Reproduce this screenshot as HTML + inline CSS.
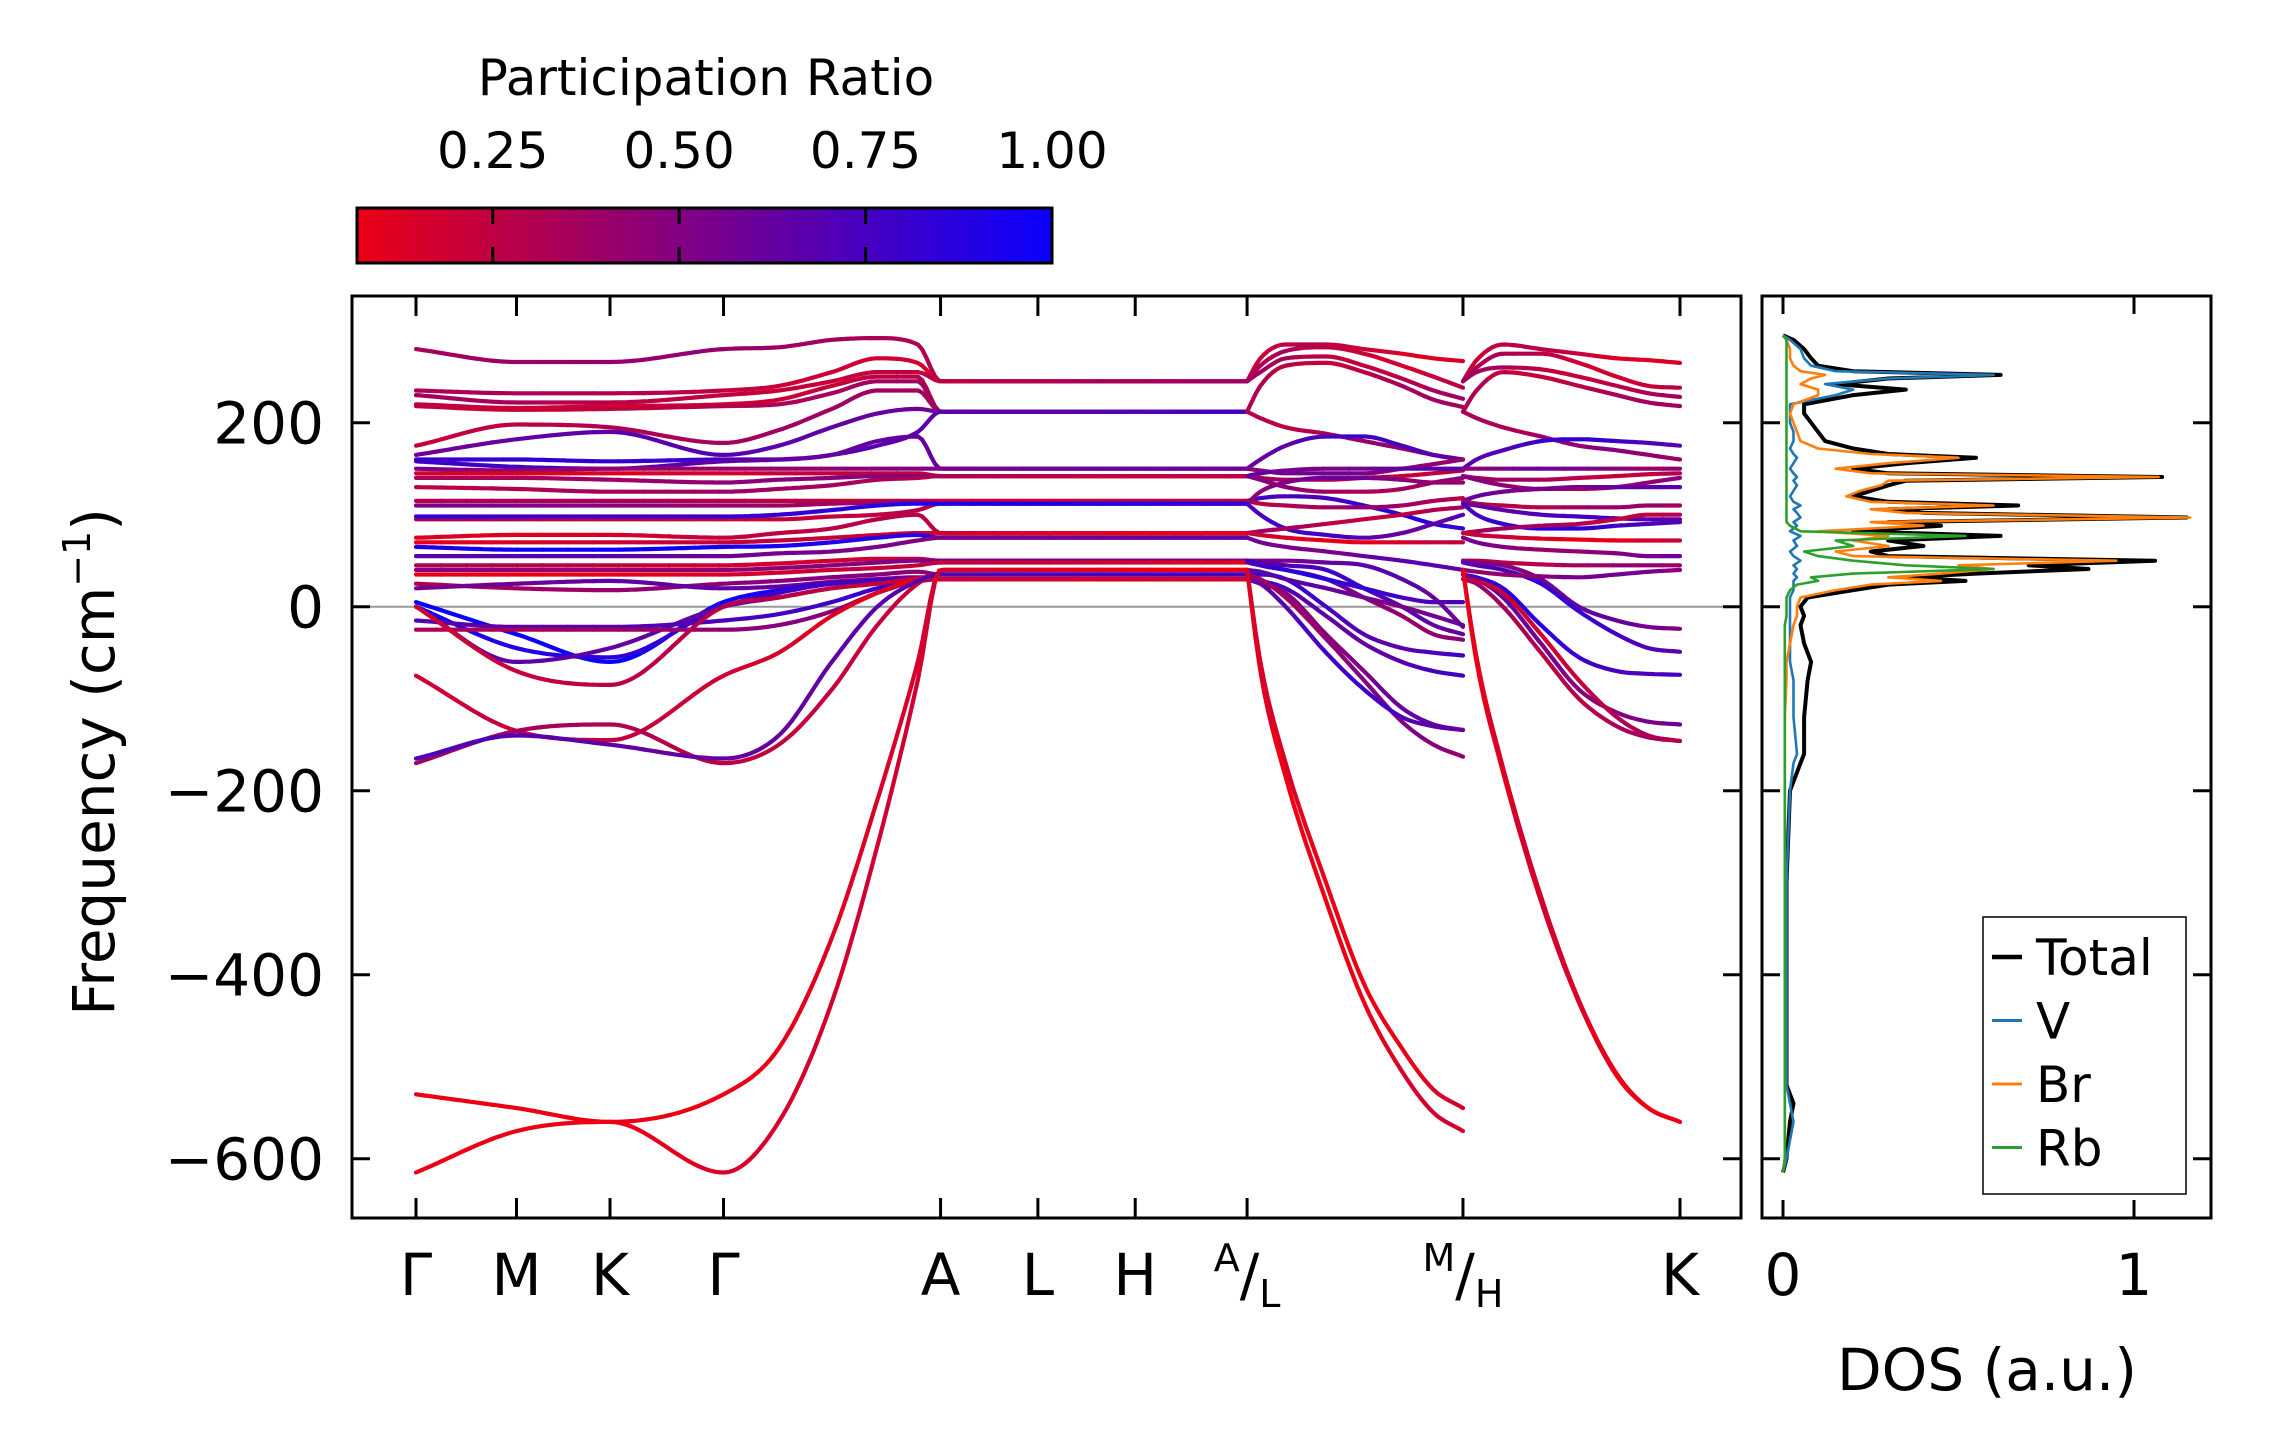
<!DOCTYPE html>
<html><head><meta charset="utf-8"><style>
html,body{margin:0;padding:0;background:#fff;}
svg{display:block;font-family:"DejaVu Sans","Liberation Sans",sans-serif;}
</style></head><body>
<svg id="fig" width="2271" height="1455" viewBox="0 0 2271 1455" xmlns="http://www.w3.org/2000/svg">
<defs>
<linearGradient id="cbgrad" x1="0" x2="1" y1="0" y2="0">
<stop offset="0" stop-color="rgb(235,0,20)"/><stop offset="1" stop-color="rgb(10,0,255)"/>
</linearGradient>
<clipPath id="mainclip"><rect x="352" y="296" width="1389" height="922"/></clipPath>
<clipPath id="dosclip"><rect x="1762" y="296" width="449" height="922"/></clipPath>
</defs>
<g id="colorbar">
<text x="706" y="95" font-size="50" text-anchor="middle">Participation Ratio</text>
<rect x="357" y="208" width="695" height="55" fill="url(#cbgrad)" stroke="#000" stroke-width="3"/>
</g>
<g id="mainplot">
<g id="bands" clip-path="url(#mainclip)"></g>
<g id="mainaxes"></g>
</g>
<g id="dosplot">
<g id="dos" clip-path="url(#dosclip)"></g>
<g id="dosaxes"></g>
</g>
<text x="0" y="0" font-size="58" text-anchor="middle" transform="translate(114,762) rotate(-90)">Frequency (cm<tspan font-size="38" dy="-24">−1</tspan><tspan dy="24">)</tspan></text>
<text x="1987" y="1390" font-size="58" text-anchor="middle">DOS (a.u.)</text>
</svg>
<script>
const NS="http://www.w3.org/2000/svg";
// ---- data ----
const cbTicks=[0.25,0.5,0.75,1.0];
const cbTickLabels=["0.25","0.50","0.75","1.00"];
const yTicks=[-600,-400,-200,0,200];
const yTickLabels=["−600","−400","−200","0","200"];
const kTicks=[0,0.795,1.535,2.433,4.15,4.92,5.69,6.575,8.283,10];
const kLabels=["Γ","M","K","Γ","A","L","H","A/L","M/H","K"];
const k1=[0,0.795,1.535,2.433,2.87,3.29,3.65,3.97,4.15,4.92,5.69,6.575];
const k2=[6.575,6.68,6.88,7.2,7.5,7.8,8.05,8.283];
const k3=[8.283,8.39,8.6,8.9,9.2,9.5,9.75,10];
const bands1=[
[280,266,266,280,282,290,292,285,245],[235,232,232,235,240,255,270,265,245],[230,222,222,230,235,245,255,255,245],
[220,216,218,220,225,240,250,250,212],[218,214,215,218,220,232,245,245,212],[175,198,195,178,192,215,235,235,212],
[165,182,190,165,175,195,210,215,212],[160,160,158,160,160,165,175,190,212],[158,152,150,158,160,165,180,185,150],
[150,148,150,150,150,150,150,150,150],[145,145,145,145,145,145,145,145,142],[140,140,138,135,138,140,142,142,142],
[130,128,125,125,128,132,138,140,142],[115,115,115,115,115,115,115,115,115],[110,110,110,110,110,112,113,114,112],
[95,95,95,95,95,98,100,105,112],[98,98,98,98,100,105,110,112,112],[75,78,78,75,80,85,95,100,80],
[70,70,70,70,72,75,78,80,80],[65,62,62,65,66,70,75,78,75],[55,55,55,55,58,60,65,72,75],
[45,45,45,45,47,50,52,52,50],[40,40,40,40,42,45,48,50,50],[35,35,35,35,37,40,42,45,48],
[25,20,18,25,28,32,35,38,35],[20,25,28,20,22,27,30,32,30],[5,-30,-60,5,18,25,28,30,30],
[0,-45,-55,0,15,25,28,30,30],[0,-60,-45,0,10,20,25,28,30],[-15,-22,-22,-15,-8,5,20,28,30],
[-25,-25,-25,-25,-20,-5,15,28,30],[0,-70,-85,0,10,20,25,30,30],[-75,-135,-145,-75,-50,-10,15,30,35],
[-170,-135,-128,-170,-150,-90,-20,25,35],[-165,-140,-150,-165,-140,-60,0,28,35],
[-530,-545,-560,-530,-480,-360,-210,-60,40],[-615,-570,-560,-615,-560,-430,-260,-80,40]];
const pr1=[.35,.25,.3,.25,.3,.3,.6,.75,.7,.5,.2,.4,.3,.25,.45,.3,.85,.2,.15,.9,.6,.25,.5,.15,.4,.55,.95,.85,.7,.75,.4,.2,.15,.3,.7,.1,.1];
const bands2=[
[245,270,285,285,280,275,270,267],[245,262,278,282,275,262,250,238],[245,255,270,272,262,248,235,226],
[212,240,262,265,255,240,225,217],[212,205,195,188,180,172,165,160],[150,160,175,185,185,175,165,160],
[150,148,145,145,145,150,155,160],[142,140,138,138,140,142,145,148],[142,138,130,125,125,128,135,140],
[142,145,148,150,150,150,150,150],[115,118,120,118,110,100,90,85],[115,112,110,108,108,110,115,118],
[112,125,135,140,140,138,135,135],[112,100,85,78,75,80,90,100],[80,82,85,90,95,100,105,108],
[80,78,75,72,70,70,70,70],[75,70,65,60,55,50,45,40],[50,50,50,48,45,30,10,-22],
[50,48,45,40,20,0,-20,-30],[48,45,40,30,10,-10,-30,-36],[35,35,30,0,-30,-45,-50,-53],
[30,28,20,-10,-40,-60,-70,-75],[30,25,15,-30,-70,-110,-128,-134],[35,30,10,-35,-80,-125,-150,-163],
[30,25,0,-50,-90,-120,-130,-134],[50,45,40,30,20,10,5,5],[40,38,30,20,10,0,-10,-20],
[40,-60,-170,-300,-410,-480,-525,-545],[40,-70,-185,-320,-430,-505,-550,-570]];
const pr2=[.2,.25,.3,.3,.35,.7,.5,.3,.4,.6,.8,.35,.5,.7,.3,.15,.6,.6,.7,.5,.75,.7,.55,.45,.7,.8,.6,.1,.1];
const bands3=[
[245,268,285,280,275,270,268,265],[245,260,275,275,265,250,240,238],[245,255,260,258,250,240,232,228],
[212,235,255,250,240,230,222,218],[212,205,195,185,175,170,165,160],[150,160,170,180,182,180,178,175],
[150,150,150,150,150,150,150,150],[142,140,138,138,140,142,144,145],[142,138,132,128,128,130,135,140],
[115,120,125,128,130,130,130,130],[115,112,110,108,108,108,110,110],[112,110,105,100,98,96,95,95],
[112,100,90,85,85,88,90,92],[80,82,85,88,90,95,100,100],[80,78,76,74,73,72,72,72],
[75,70,65,62,60,58,55,55],[50,50,48,46,45,45,45,45],[50,48,45,30,0,-15,-22,-24],
[48,45,40,25,-5,-30,-45,-49],[35,32,20,-20,-55,-70,-73,-74],[35,30,10,-40,-90,-115,-125,-128],
[30,25,0,-50,-100,-130,-142,-146],[30,28,15,-30,-80,-120,-140,-146],[40,38,35,33,32,35,38,40],
[40,-60,-180,-320,-430,-510,-545,-560],[40,-55,-175,-315,-428,-508,-545,-560]];
const pr3=[.2,.25,.3,.3,.4,.75,.5,.3,.4,.6,.35,.7,.8,.3,.15,.5,.35,.55,.75,.8,.55,.35,.25,.5,.1,.1];
const dosFreq=[-615,-600,-560,-540,-520,-400,-300,-200,-170,-160,-120,-80,-60,-40,-20,-10,0,10,18,24,28,32,36,41,45,50,55,60,66,72,77,82,88,92,97,102,106,110,114,120,126,132,137,141,145,150,156,162,166,172,180,190,200,210,220,230,236,242,248,252,256,262,270,280,290,295];
const dosTotal=[0,0.01,0.02,0.03,0.01,0.01,0.01,0.02,0.05,0.06,0.06,0.07,0.08,0.06,0.05,0.06,0.05,0.07,0.2,0.3,0.52,0.35,0.55,0.87,0.7,1.06,0.3,0.25,0.4,0.3,0.62,0.2,0.45,0.3,1.15,0.4,0.3,0.67,0.3,0.2,0.25,0.3,0.35,1.08,0.3,0.2,0.35,0.55,0.3,0.2,0.12,0.1,0.08,0.06,0.06,0.2,0.35,0.15,0.3,0.62,0.2,0.1,0.08,0.06,0.03,0];
const dosBr=[0,0.005,0.005,0.005,0.005,0.005,0.005,0.005,0.005,0.005,0.005,0.01,0.01,0.02,0.03,0.04,0.04,0.05,0.15,0.25,0.45,0.3,0.45,0.6,0.5,0.95,0.2,0.15,0.3,0.2,0.3,0.1,0.4,0.25,1.16,0.35,0.25,0.6,0.25,0.18,0.22,0.28,0.3,1.07,0.25,0.15,0.3,0.5,0.25,0.1,0.05,0.04,0.03,0.02,0.03,0.1,0.1,0.05,0.08,0.12,0.05,0.03,0.02,0.02,0.01,0];
const dosV=[0,0.01,0.03,0.02,0.01,0.01,0.01,0.02,0.03,0.04,0.03,0.03,0.02,0.02,0.02,0.02,0.02,0.02,0.03,0.03,0.03,0.04,0.03,0.04,0.03,0.05,0.03,0.02,0.04,0.03,0.05,0.02,0.04,0.03,0.05,0.04,0.03,0.05,0.03,0.02,0.03,0.04,0.03,0.04,0.03,0.02,0.03,0.04,0.03,0.02,0.03,0.03,0.02,0.02,0.02,0.15,0.2,0.12,0.3,0.6,0.15,0.08,0.06,0.05,0.02,0];
const dosRb=[0,0.005,0.005,0.005,0.005,0.005,0.005,0.005,0.005,0.005,0.005,0.005,0.005,0.005,0.005,0.01,0.01,0.01,0.02,0.04,0.1,0.08,0.2,0.6,0.35,0.2,0.1,0.06,0.2,0.15,0.52,0.05,0.02,0.01,0.01,0.01,0.01,0.01,0.01,0.01,0.01,0.01,0.01,0.01,0.01,0.01,0.01,0.01,0.01,0.01,0.01,0.01,0.01,0.01,0.01,0.01,0.01,0.01,0.01,0.01,0.01,0.01,0.01,0.01,0.01,0];
const dosTicks=[0,1];
const legendNames=["Total","V","Br","Rb"];
const legendColors=["#000000","#1f77b4","#ff7f0e","#2ca02c"];
// ---- scales ----
const MX0=352,MX1=1741,MY0=296,MY1=1218, DX0=1762,DX1=2211;
const xK=k=>416+k*126.4;
const yF=f=>606.7-f*0.92;
const xD=v=>1783+v*351;
const cbX=p=>357+(p-0.068)/(1-0.068)*695;
function col(p){const t=Math.max(0,Math.min(1,(p-0.068)/(0.932)));
return `rgb(${Math.round(235+(10-235)*t)},0,${Math.round(20+(255-20)*t)})`;}
function mk(tag,attrs,parent){const e=document.createElementNS(NS,tag);for(const a in attrs)e.setAttribute(a,attrs[a]);parent.appendChild(e);return e;}
function mono(xs,ys){const n=xs.length,d=[],m=[];for(let i=0;i<n-1;i++)d.push((ys[i+1]-ys[i])/(xs[i+1]-xs[i]));
m[0]=d[0];m[n-1]=d[n-2];for(let i=1;i<n-1;i++){m[i]=(d[i-1]*d[i]<=0)?0:(d[i-1]+d[i])/2;}
for(let i=0;i<n-1;i++){if(d[i]===0){m[i]=0;m[i+1]=0;continue;}const a=m[i]/d[i],b=m[i+1]/d[i],s=a*a+b*b;if(s>9){const t=3/Math.sqrt(s);m[i]=t*a*d[i];m[i+1]=t*b*d[i];}}
return x=>{let i=0;while(i<n-2&&x>xs[i+1])i++;const h=xs[i+1]-xs[i],t=(x-xs[i])/h,t2=t*t,t3=t2*t;
return (2*t3-3*t2+1)*ys[i]+(t3-2*t2+t)*h*m[i]+(-2*t3+3*t2)*ys[i+1]+(t3-t2)*h*m[i+1];};}
const bandG=document.getElementById('bands');
const zl=mk('line',{x1:MX0,x2:MX1,y1:yF(0),y2:yF(0),stroke:'#999',"stroke-width":2},bandG);


function drawPiece(ks,bands,prs,tag){
 bands.forEach((b,bi)=>{
  const vals=b.slice();while(vals.length<ks.length)vals.push(vals[vals.length-1]);
  const f=mono(ks,vals);const k0=ks[0],kn=ks[ks.length-1];const N=Math.max(40,Math.round((kn-k0)*30));
  const p=prs[bi];
  const g=mk('g',{},bandG);
  
  
  const CH=6;
  for(let s=0;s<N;s+=CH){let d='';for(let j=s;j<=Math.min(N,s+CH);j++){const k=k0+(kn-k0)*j/N;d+=(j===s?'M':'L')+xK(k).toFixed(1)+','+yF(f(k)).toFixed(1);}
   const pv=p+0.08*Math.sin((s/N)*6+bi);
   mk('path',{d:d,fill:'none',stroke:col(pv),"stroke-width":4.2,"stroke-linecap":"round"},g);}
 });}
drawPiece(k1,bands1,pr1,'gamma-a');
drawPiece(k2,bands2,pr2,'l-m');
drawPiece(k3,bands3,pr3,'h-k');
const ax=document.getElementById('mainaxes');
const fr=mk('rect',{x:MX0,y:MY0,width:MX1-MX0,height:MY1-MY0,fill:'none',stroke:'#000',"stroke-width":3},ax);


yTicks.forEach((v,i)=>{const y=yF(v);
 mk('line',{x1:MX0,x2:MX0+18,y1:y,y2:y,stroke:'#000',"stroke-width":3},ax);
 mk('line',{x1:MX1-18,x2:MX1,y1:y,y2:y,stroke:'#000',"stroke-width":3},ax);
 const t=mk('text',{x:MX0-28,y:y+21,"font-size":58,"text-anchor":"end"},ax);t.textContent=yTickLabels[i];
 
 
});
kTicks.forEach((k,i)=>{const x=xK(k);
 mk('line',{x1:x,x2:x,y1:MY0,y2:MY0+20,stroke:'#000',"stroke-width":3},ax);
 mk('line',{x1:x,x2:x,y1:MY1-20,y2:MY1,stroke:'#000',"stroke-width":3},ax);
 const lab=kLabels[i];const t=mk('text',{x:x,y:1295,"font-size":58,"text-anchor":"middle"},ax);
 
 
 if(lab.includes('/')){const [a,b]=lab.split('/');
  const s1=mk('tspan',{"font-size":38,dy:-24},t);s1.textContent=a;
  const s2=mk('tspan',{dy:24},t);s2.textContent='/';
  const s3=mk('tspan',{"font-size":38,dy:12},t);s3.textContent=b;
 } else t.textContent=lab;
});
const cb=document.getElementById('colorbar');
cbTicks.forEach((v,i)=>{const x=cbX(v);
 if(v<1){mk('line',{x1:x,x2:x,y1:208,y2:224,stroke:'#000',"stroke-width":3},cb);mk('line',{x1:x,x2:x,y1:247,y2:263,stroke:'#000',"stroke-width":3},cb);}
 const t=mk('text',{x:x,y:168,"font-size":50,"text-anchor":"middle"},cb);t.textContent=cbTickLabels[i];
 
 
});
const dg=document.getElementById('dos');
[[dosTotal,0,4],[dosV,1,2.6],[dosBr,2,2.6],[dosRb,3,2.6]].forEach(([arr,ci,w])=>{
 let d='';dosFreq.forEach((f,i)=>{d+=(i?'L':'M')+xD(arr[i]).toFixed(1)+','+yF(f).toFixed(1);});
 const p=mk('path',{d:d,fill:'none',stroke:legendColors[ci],"stroke-width":w,"stroke-linejoin":"round"},dg);
 
 
});
const dax=document.getElementById('dosaxes');
const df=mk('rect',{x:DX0,y:MY0,width:DX1-DX0,height:MY1-MY0,fill:'none',stroke:'#000',"stroke-width":3},dax);


yTicks.forEach(v=>{const y=yF(v);
 mk('line',{x1:DX0,x2:DX0+18,y1:y,y2:y,stroke:'#000',"stroke-width":3},dax);
 mk('line',{x1:DX1-18,x2:DX1,y1:y,y2:y,stroke:'#000',"stroke-width":3},dax);});
dosTicks.forEach(v=>{const x=xD(v);
 mk('line',{x1:x,x2:x,y1:MY0,y2:MY0+18,stroke:'#000',"stroke-width":3},dax);
 mk('line',{x1:x,x2:x,y1:MY1-18,y2:MY1,stroke:'#000',"stroke-width":3},dax);
 const t=mk('text',{x:x,y:1295,"font-size":58,"text-anchor":"middle"},dax);t.textContent=String(v);
 
 
});
const lg=mk('g',{},dax);


mk('rect',{x:1983,y:917,width:203,height:277,fill:'#fff',stroke:'#000',"stroke-width":1.5},lg);
legendNames.forEach((n,i)=>{const y=957+i*63.5;
 const e=mk('g',{},lg);
 
 
 mk('line',{x1:1992,x2:2022,y1:y,y2:y,stroke:legendColors[i],"stroke-width":i?3:4.5},e);
 const t=mk('text',{x:2036,y:y+18,"font-size":50},e);t.textContent=n;});
</script>
</body></html>
